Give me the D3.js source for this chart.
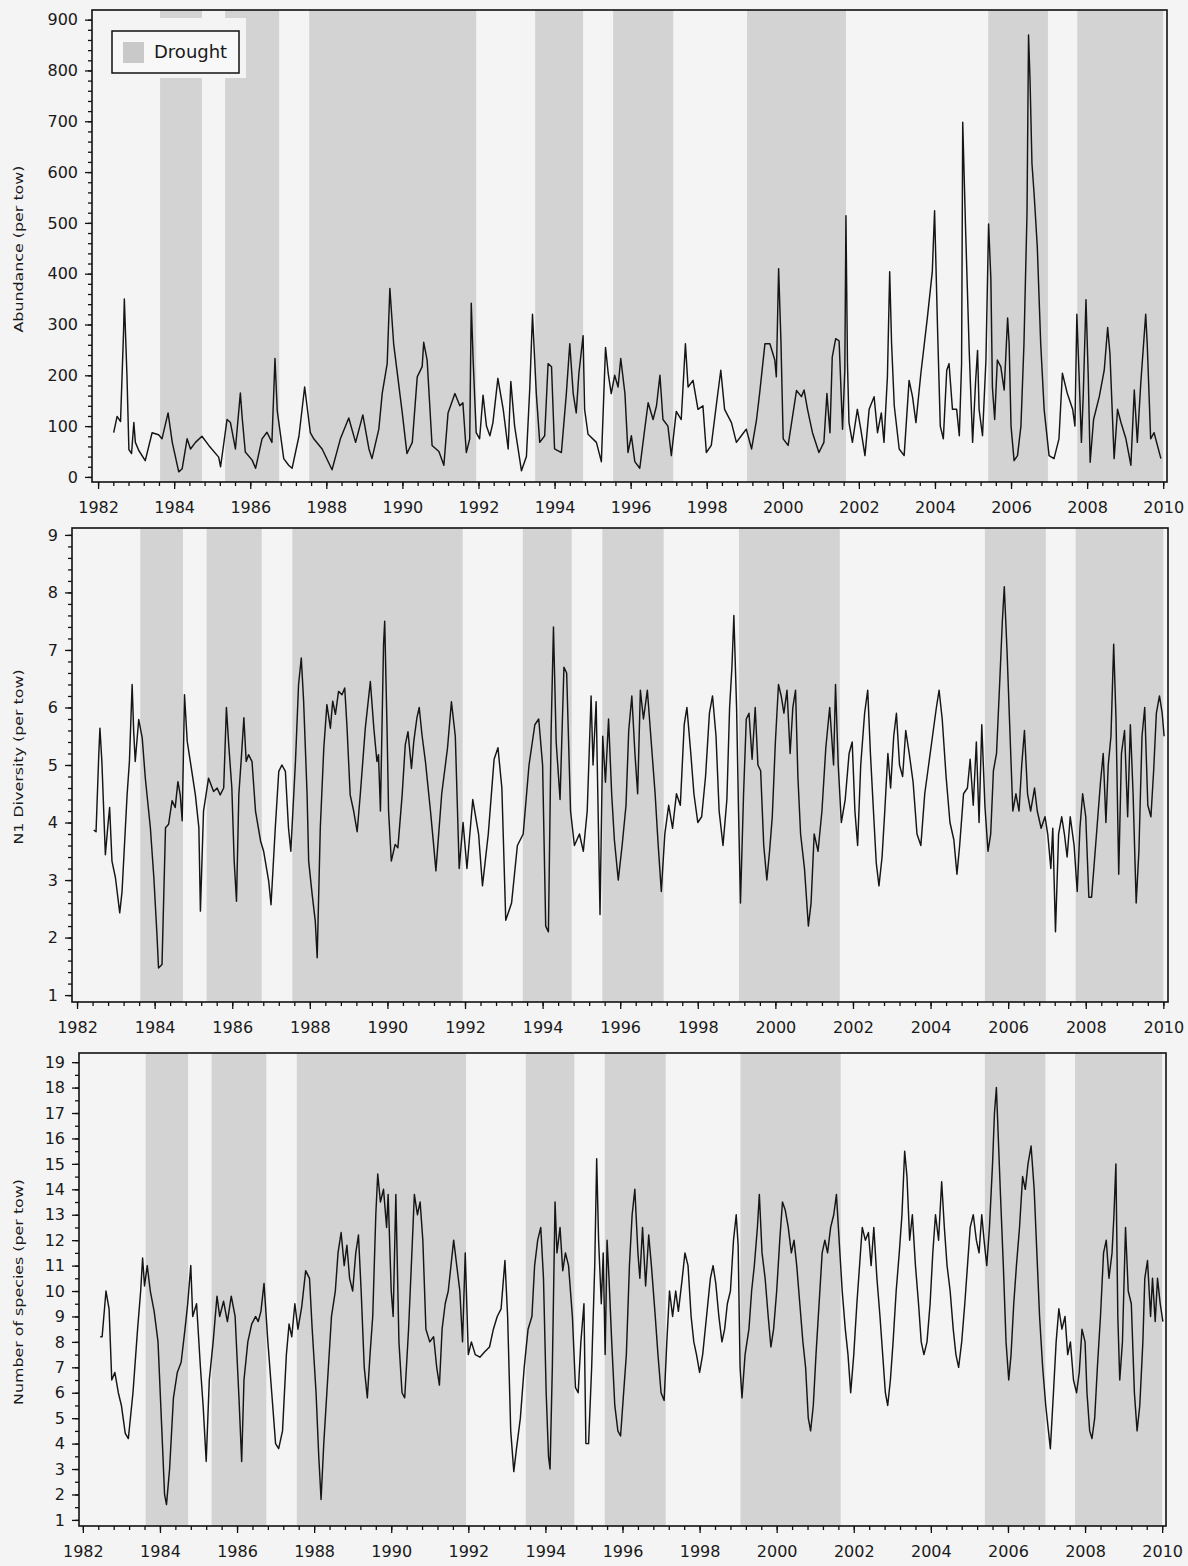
<!DOCTYPE html>
<html><head><meta charset="utf-8">
<script src="https://cdn.jsdelivr.net/npm/d3@7/dist/d3.min.js"></script>
<style>body{margin:0;background:#f4f4f4} svg{display:block}</style>
</head><body><svg id="c" width="1188" height="1566"></svg>
<script>
// ---------- DATA ----------
const droughtStart = [1983.63, 1985.34, 1987.55, 1993.49, 1995.54, 1999.06, 2005.40, 2007.74];
const droughtEnd   = [1984.73, 1986.76, 1991.94, 1994.75, 1997.12, 2001.66, 2006.97, 2010.00];
const xTickYears = [1982,1984,1986,1988,1990,1992,1994,1996,1998,2000,2002,2004,2006,2008,2010];
const abundanceTicks = [0,100,200,300,400,500,600,700,800,900];
const diversityTicks = [1,2,3,4,5,6,7,8,9];
const speciesTicks = [1,2,3,4,5,6,7,8,9,10,11,12,13,14,15,16,17,18,19];

const abundanceYear = [1982.41,1982.50,1982.59,1982.67,1982.69,1982.76,1982.81,1982.88,1982.94,1982.98,1983.07,1983.24,1983.42,1983.59,1983.68,1983.84,1983.95,1984.12,1984.21,1984.34,1984.43,1984.56,1984.73,1984.91,1985.17,1985.22,1985.39,1985.48,1985.61,1985.74,1985.79,1985.87,1986.05,1986.14,1986.31,1986.44,1986.57,1986.65,1986.71,1986.88,1987.01,1987.10,1987.28,1987.43,1987.58,1987.67,1987.89,1988.15,1988.37,1988.59,1988.77,1988.96,1989.12,1989.20,1989.38,1989.47,1989.60,1989.67,1989.77,1989.99,1990.12,1990.26,1990.39,1990.52,1990.56,1990.65,1990.78,1990.96,1991.09,1991.20,1991.38,1991.51,1991.59,1991.68,1991.77,1991.81,1991.86,1991.94,1992.03,1992.12,1992.21,1992.30,1992.38,1992.51,1992.65,1992.78,1992.85,1992.95,1993.13,1993.26,1993.35,1993.42,1993.52,1993.61,1993.74,1993.83,1993.92,1994.00,1994.18,1994.31,1994.40,1994.49,1994.57,1994.64,1994.75,1994.79,1994.88,1995.10,1995.23,1995.34,1995.41,1995.49,1995.58,1995.67,1995.74,1995.85,1995.93,1996.02,1996.11,1996.24,1996.37,1996.46,1996.59,1996.68,1996.77,1996.85,1996.98,1997.07,1997.20,1997.33,1997.44,1997.51,1997.64,1997.77,1997.90,1997.99,1998.12,1998.26,1998.37,1998.47,1998.65,1998.78,1998.91,1999.04,1999.18,1999.31,1999.39,1999.53,1999.66,1999.79,1999.83,1999.89,1999.95,2000.01,2000.14,2000.36,2000.49,2000.56,2000.65,2000.78,2000.95,2001.08,2001.16,2001.24,2001.30,2001.39,2001.48,2001.57,2001.63,2001.66,2001.70,2001.74,2001.83,2001.96,2002.05,2002.16,2002.27,2002.40,2002.49,2002.59,2002.66,2002.75,2002.81,2002.86,2002.93,2003.06,2003.19,2003.32,2003.41,2003.50,2003.63,2003.80,2003.93,2003.99,2004.07,2004.14,2004.22,2004.31,2004.37,2004.46,2004.57,2004.64,2004.70,2004.73,2004.81,2004.90,2004.99,2005.07,2005.12,2005.16,2005.25,2005.34,2005.41,2005.47,2005.51,2005.57,2005.64,2005.73,2005.82,2005.91,2005.95,2006.00,2006.08,2006.17,2006.26,2006.34,2006.42,2006.46,2006.50,2006.55,2006.61,2006.69,2006.78,2006.87,2007.00,2007.13,2007.26,2007.35,2007.48,2007.62,2007.68,2007.73,2007.79,2007.85,2007.90,2007.97,2008.03,2008.08,2008.17,2008.32,2008.45,2008.54,2008.60,2008.71,2008.80,2008.89,2009.02,2009.15,2009.24,2009.32,2009.41,2009.54,2009.58,2009.67,2009.76,2009.94];
const abundanceValue = [87,119,109,287,350,197,54,46,107,68,52,32,87,83,75,126,68,10,16,75,55,68,80,62,39,20,113,107,55,165,115,49,33,17,75,88,68,233,130,36,23,17,80,177,87,75,55,14,75,116,68,122,55,36,94,165,223,371,262,130,46,68,197,217,265,230,62,50,23,126,164,140,146,48,75,342,229,87,75,161,100,81,107,194,133,55,188,100,12,40,177,320,164,68,81,223,217,55,48,164,262,164,126,204,278,133,84,68,30,255,204,164,200,177,233,164,48,81,30,17,94,146,113,140,200,113,100,42,129,113,262,177,190,133,140,48,62,146,210,133,107,68,81,94,55,113,164,262,262,230,197,410,270,75,62,170,158,171,133,87,48,68,164,87,236,272,268,94,210,514,223,107,68,133,94,42,133,158,87,126,68,197,404,262,140,55,42,190,158,107,204,313,404,524,286,100,75,210,223,133,133,81,223,698,475,249,68,190,249,133,81,230,498,390,177,113,230,217,171,313,262,100,32,42,100,262,520,870,779,617,553,453,262,133,42,36,75,204,164,133,100,320,197,68,164,349,197,29,113,158,210,294,243,36,133,107,75,23,171,68,184,320,262,75,87,36];

const diversityYear = [1982.43,1982.49,1982.56,1982.59,1982.64,1982.73,1982.79,1982.84,1982.90,1982.99,1983.10,1983.16,1983.29,1983.35,1983.42,1983.46,1983.50,1983.59,1983.68,1983.76,1983.89,1983.98,1984.06,1984.10,1984.19,1984.28,1984.36,1984.45,1984.53,1984.60,1984.66,1984.71,1984.77,1984.84,1984.92,1985.05,1985.14,1985.18,1985.26,1985.39,1985.52,1985.61,1985.69,1985.78,1985.85,1985.91,1985.99,1986.05,1986.11,1986.17,1986.24,1986.30,1986.36,1986.42,1986.51,1986.60,1986.73,1986.81,1986.94,1987.00,1987.11,1987.20,1987.28,1987.37,1987.45,1987.51,1987.63,1987.71,1987.78,1987.84,1987.93,1987.97,1988.06,1988.14,1988.19,1988.27,1988.36,1988.44,1988.53,1988.59,1988.66,1988.74,1988.83,1988.90,1988.96,1989.04,1989.13,1989.22,1989.30,1989.43,1989.56,1989.65,1989.73,1989.77,1989.82,1989.90,1989.93,1989.99,1990.03,1990.10,1990.20,1990.27,1990.38,1990.46,1990.53,1990.62,1990.68,1990.76,1990.82,1990.89,1990.98,1991.11,1991.19,1991.25,1991.40,1991.55,1991.65,1991.75,1991.85,1991.95,1992.05,1992.20,1992.35,1992.45,1992.60,1992.75,1992.85,1992.95,1993.05,1993.20,1993.35,1993.50,1993.65,1993.80,1993.90,1994.00,1994.08,1994.15,1994.22,1994.28,1994.35,1994.45,1994.55,1994.62,1994.72,1994.82,1994.95,1995.05,1995.15,1995.25,1995.30,1995.38,1995.42,1995.48,1995.55,1995.62,1995.70,1995.78,1995.85,1995.95,1996.05,1996.15,1996.22,1996.30,1996.38,1996.45,1996.52,1996.60,1996.70,1996.80,1996.90,1996.98,1997.06,1997.15,1997.25,1997.35,1997.45,1997.55,1997.65,1997.72,1997.82,1997.90,1998.00,1998.10,1998.20,1998.30,1998.38,1998.47,1998.55,1998.65,1998.75,1998.82,1998.88,1998.93,1999.00,1999.05,1999.10,1999.18,1999.25,1999.32,1999.40,1999.48,1999.55,1999.62,1999.70,1999.78,1999.85,1999.92,2000.00,2000.08,2000.15,2000.22,2000.30,2000.38,2000.45,2000.52,2000.58,2000.65,2000.75,2000.85,2000.92,2001.00,2001.10,2001.20,2001.30,2001.40,2001.50,2001.55,2001.62,2001.70,2001.80,2001.90,2001.98,2002.05,2002.12,2002.20,2002.30,2002.38,2002.45,2002.52,2002.60,2002.67,2002.75,2002.82,2002.90,2002.97,2003.05,2003.12,2003.20,2003.28,2003.36,2003.45,2003.55,2003.65,2003.75,2003.85,2003.95,2004.05,2004.15,2004.22,2004.30,2004.40,2004.50,2004.60,2004.68,2004.75,2004.85,2004.95,2005.02,2005.10,2005.18,2005.25,2005.32,2005.40,2005.48,2005.55,2005.62,2005.70,2005.78,2005.85,2005.90,2005.97,2006.05,2006.12,2006.20,2006.28,2006.35,2006.42,2006.50,2006.58,2006.68,2006.75,2006.85,2006.95,2007.02,2007.10,2007.15,2007.22,2007.30,2007.38,2007.45,2007.52,2007.60,2007.70,2007.78,2007.85,2007.92,2008.00,2008.08,2008.15,2008.22,2008.30,2008.38,2008.45,2008.52,2008.58,2008.65,2008.72,2008.78,2008.85,2008.92,2009.00,2009.08,2009.15,2009.22,2009.30,2009.37,2009.45,2009.52,2009.60,2009.68,2009.75,2009.82,2009.90,2009.97,2010.02];
const diversityValue = [3.87,3.84,5.18,5.64,5.06,3.44,3.91,4.26,3.33,3.04,2.43,2.80,4.48,5.06,6.40,5.58,5.06,5.79,5.47,4.77,3.91,3.04,2.05,1.47,1.53,3.91,3.97,4.38,4.26,4.71,4.48,4.03,6.22,5.41,5.06,4.48,3.91,2.46,4.20,4.77,4.54,4.60,4.48,4.60,6.00,5.35,4.60,3.33,2.63,4.48,5.18,5.82,5.06,5.18,5.06,4.20,3.68,3.50,2.98,2.57,3.91,4.89,5.00,4.89,3.91,3.50,5.06,6.40,6.86,6.11,4.48,3.33,2.75,2.29,1.65,3.91,5.29,6.05,5.64,6.11,5.88,6.28,6.22,6.34,5.64,4.48,4.20,3.84,4.48,5.64,6.45,5.64,5.06,5.18,4.20,7.09,7.50,5.64,4.20,3.33,3.62,3.56,4.48,5.35,5.58,4.94,5.41,5.82,6.00,5.53,5.06,4.20,3.62,3.16,4.5,5.3,6.1,5.5,3.2,4.0,3.2,4.4,3.8,2.9,3.8,5.1,5.3,4.6,2.3,2.6,3.6,3.8,5.0,5.7,5.8,5.0,2.2,2.1,5.6,7.4,5.4,4.4,6.7,6.6,4.2,3.6,3.8,3.5,4.2,6.2,5.0,6.1,4.6,2.4,5.5,4.7,5.8,4.5,3.7,3.0,3.6,4.3,5.6,6.2,5.2,4.5,6.3,5.8,6.3,5.4,4.5,3.6,2.8,3.8,4.3,3.9,4.5,4.3,5.7,6.0,5.2,4.5,4.0,4.1,4.8,5.9,6.2,5.5,4.2,3.6,4.4,6.0,6.7,7.6,6.0,4.2,2.6,4.5,5.8,5.9,5.1,6.0,5.0,4.9,3.6,3.0,3.5,4.1,5.4,6.4,6.2,5.9,6.3,5.2,6.0,6.3,4.8,3.8,3.2,2.2,2.6,3.8,3.5,4.2,5.3,6.0,5.0,6.4,5.0,4.0,4.4,5.2,5.4,4.2,3.6,5.0,5.9,6.3,5.2,4.3,3.3,2.9,3.4,4.2,5.2,4.6,5.5,5.9,5.0,4.8,5.6,5.2,4.7,3.8,3.6,4.5,5.0,5.5,6.0,6.3,5.8,4.8,4.0,3.7,3.1,3.6,4.5,4.6,5.1,4.3,5.4,4.0,5.7,4.3,3.5,3.8,4.9,5.2,6.4,7.5,8.1,7.0,5.5,4.2,4.5,4.2,5.0,5.6,4.5,4.2,4.6,4.2,3.9,4.1,3.8,3.2,3.9,2.1,3.8,4.1,3.8,3.4,4.1,3.6,2.8,3.9,4.5,4.1,2.7,2.7,3.3,4.0,4.7,5.2,4.0,5.0,5.5,7.1,5.8,3.1,5.2,5.6,4.1,5.7,4.5,2.6,3.5,5.5,6.0,4.3,4.1,4.9,5.9,6.2,5.9,5.5];

const speciesYear = [1982.45,1982.50,1982.60,1982.68,1982.75,1982.83,1982.92,1983.00,1983.10,1983.18,1983.30,1983.42,1983.50,1983.55,1983.60,1983.67,1983.75,1983.85,1983.95,1984.05,1984.12,1984.17,1984.25,1984.35,1984.45,1984.55,1984.65,1984.72,1984.80,1984.85,1984.95,1985.05,1985.12,1985.20,1985.28,1985.38,1985.48,1985.55,1985.65,1985.75,1985.85,1985.95,1986.05,1986.12,1986.18,1986.28,1986.38,1986.48,1986.55,1986.62,1986.70,1986.80,1986.90,1987.00,1987.08,1987.18,1987.28,1987.35,1987.42,1987.50,1987.58,1987.68,1987.78,1987.88,1987.95,1988.05,1988.12,1988.18,1988.25,1988.35,1988.45,1988.55,1988.62,1988.70,1988.78,1988.85,1988.92,1989.00,1989.08,1989.15,1989.22,1989.30,1989.38,1989.45,1989.52,1989.60,1989.65,1989.72,1989.80,1989.88,1989.92,1990.00,1990.05,1990.12,1990.20,1990.28,1990.35,1990.45,1990.55,1990.60,1990.68,1990.75,1990.82,1990.90,1991.00,1991.10,1991.18,1991.25,1991.32,1991.40,1991.48,1991.55,1991.62,1991.70,1991.78,1991.85,1991.92,1992.00,1992.08,1992.18,1992.30,1992.42,1992.55,1992.65,1992.75,1992.85,1992.95,1993.02,1993.10,1993.18,1993.25,1993.35,1993.45,1993.55,1993.65,1993.72,1993.80,1993.88,1993.95,1994.02,1994.08,1994.12,1994.18,1994.25,1994.30,1994.38,1994.45,1994.52,1994.60,1994.70,1994.78,1994.85,1994.92,1995.00,1995.05,1995.12,1995.20,1995.28,1995.33,1995.38,1995.45,1995.50,1995.55,1995.60,1995.65,1995.72,1995.80,1995.88,1995.95,1996.02,1996.10,1996.18,1996.25,1996.32,1996.40,1996.45,1996.52,1996.60,1996.68,1996.75,1996.85,1996.92,1997.00,1997.08,1997.15,1997.22,1997.30,1997.38,1997.45,1997.55,1997.62,1997.70,1997.78,1997.85,1997.92,1998.00,1998.08,1998.18,1998.28,1998.35,1998.42,1998.50,1998.58,1998.65,1998.72,1998.80,1998.88,1998.95,1999.00,1999.05,1999.10,1999.18,1999.28,1999.35,1999.42,1999.50,1999.55,1999.62,1999.70,1999.78,1999.85,1999.92,2000.00,2000.08,2000.15,2000.22,2000.30,2000.38,2000.45,2000.52,2000.60,2000.68,2000.75,2000.82,2000.88,2000.95,2001.02,2001.10,2001.18,2001.25,2001.32,2001.40,2001.48,2001.55,2001.62,2001.70,2001.78,2001.85,2001.92,2002.00,2002.08,2002.15,2002.22,2002.30,2002.38,2002.45,2002.52,2002.60,2002.68,2002.75,2002.82,2002.88,2002.95,2003.02,2003.10,2003.18,2003.25,2003.32,2003.38,2003.45,2003.52,2003.60,2003.68,2003.75,2003.82,2003.90,2003.98,2004.05,2004.12,2004.20,2004.28,2004.35,2004.42,2004.50,2004.58,2004.65,2004.72,2004.80,2004.88,2004.95,2005.02,2005.10,2005.18,2005.25,2005.32,2005.38,2005.45,2005.52,2005.60,2005.65,2005.70,2005.75,2005.80,2005.88,2005.95,2006.02,2006.08,2006.15,2006.22,2006.30,2006.38,2006.45,2006.52,2006.60,2006.68,2006.75,2006.82,2006.90,2006.98,2007.05,2007.10,2007.18,2007.25,2007.32,2007.40,2007.48,2007.55,2007.62,2007.70,2007.78,2007.85,2007.92,2008.00,2008.05,2008.12,2008.18,2008.25,2008.32,2008.40,2008.48,2008.55,2008.62,2008.70,2008.75,2008.80,2008.85,2008.90,2008.97,2009.05,2009.12,2009.20,2009.28,2009.35,2009.42,2009.50,2009.55,2009.62,2009.70,2009.75,2009.82,2009.88,2009.95,2010.02];
const speciesValue = [8.2,8.2,10.0,9.3,6.5,6.8,6.0,5.5,4.4,4.2,6.0,8.5,10.0,11.3,10.2,11.0,10.0,9.2,8.0,4.5,2.0,1.6,3.0,5.8,6.8,7.2,8.5,9.5,11.0,9.0,9.5,7.0,5.5,3.3,6.5,8.0,9.8,9.0,9.6,8.8,9.8,9.0,5.8,3.3,6.5,8.0,8.7,9.0,8.8,9.2,10.3,8.0,6.0,4.0,3.8,4.5,7.5,8.7,8.2,9.5,8.5,9.4,10.8,10.5,8.5,6.0,3.5,1.8,4.0,6.5,9.0,10.0,11.5,12.3,11.0,11.8,10.5,10.0,11.5,12.2,10.0,7.0,5.8,7.5,9.0,13.0,14.6,13.5,14.0,12.5,13.8,10.0,9.0,13.8,8.0,6.0,5.8,8.5,12.0,13.8,13.0,13.5,12.0,8.5,8.0,8.2,7.0,6.3,8.5,9.5,10.0,11.0,12.0,11.0,10.0,8.0,11.5,7.5,8.0,7.5,7.4,7.6,7.8,8.5,9.0,9.3,11.2,9.0,4.5,2.9,3.8,5.0,7.0,8.5,9.0,11.0,12.0,12.5,10.5,6.0,3.5,3.0,7.0,13.5,11.5,12.5,10.8,11.5,11.0,9.0,6.2,6.0,8.0,9.5,4.0,4.0,7.0,11.0,15.2,12.0,9.5,11.5,7.5,12.0,10.5,8.0,5.5,4.5,4.3,5.8,7.5,11.0,13.0,14.0,11.5,10.5,12.5,10.2,12.2,11.0,9.0,7.5,6.0,5.7,8.0,10.0,9.0,10.0,9.2,10.5,11.5,11.0,9.0,8.0,7.5,6.8,7.5,9.0,10.5,11.0,10.3,9.0,8.0,8.5,9.5,10.0,12.0,13.0,11.8,7.0,5.8,7.5,8.5,10.0,11.0,12.5,13.8,11.5,10.5,9.0,7.8,8.5,10.0,12.0,13.5,13.2,12.5,11.5,12.0,11.0,9.5,8.0,7.0,5.0,4.5,5.5,7.5,9.5,11.5,12.0,11.5,12.5,13.0,13.8,12.0,10.0,8.5,7.5,6.0,7.5,9.5,11.0,12.5,12.0,12.3,11.0,12.5,10.5,9.0,7.5,6.0,5.5,6.5,8.0,10.0,11.5,13.0,15.5,14.5,12.0,13.0,11.0,9.5,8.0,7.5,8.0,9.5,11.5,13.0,12.0,14.3,12.5,11.0,10.0,8.5,7.5,7.0,8.0,9.5,11.0,12.5,13.0,12.0,11.5,13.0,12.0,11.0,12.5,15.0,17.0,18.0,16.0,14.0,11.0,8.0,6.5,7.5,9.5,11.0,12.5,14.5,14.0,15.0,15.7,14.0,11.5,9.0,7.0,5.5,4.5,3.8,6.0,8.0,9.3,8.5,9.0,7.5,8.0,6.5,6.0,6.8,8.5,8.0,6.0,4.5,4.2,5.0,7.0,9.0,11.5,12.0,10.5,11.5,13.0,15.0,9.0,6.5,8.0,12.5,10.0,9.5,6.0,4.5,5.5,8.0,10.5,11.2,9.0,10.5,8.8,10.5,9.5,8.8];

// ---------- DRAWING ----------
const svg = d3.select("#c");
const BG = "#f4f4f4";
svg.append("rect").attr("width",1188).attr("height",1566).attr("fill",BG);

const panels = [
  {title:"Abundance (per tow)", xs:abundanceYear, vs:abundanceValue, ticks:abundanceTicks, minor:20,
   xDom:[1981.84,2010.10], xR:[92,1167], yDom:[-10,919], yR:[482,10], titleY:249, legend:true},
  {title:"N1 Diversity (per tow)", xs:diversityYear, vs:diversityValue, ticks:diversityTicks, minor:0.2,
   xDom:[1981.87,2010.12], xR:[72,1168], yDom:[0.88,9.12], yR:[1002,528], titleY:757},
  {title:"Number of species (per tow)", xs:speciesYear, vs:speciesValue, ticks:speciesTicks, minor:0.5,
   xDom:[1981.90,2010.10], xR:[79,1166], yDom:[0.76,19.36], yR:[1526,1053], titleY:1292}
];

panels.forEach(p => {
  const x = d3.scaleLinear().domain(p.xDom).range(p.xR);
  const y = d3.scaleLinear().domain(p.yDom).range(p.yR);
  const g = svg.append("g");
  const top = p.yR[1], bot = p.yR[0];

  // drought bands
  g.selectAll("rect.band").data(droughtStart.map((s,i)=>[s,droughtEnd[i]])).join("rect")
    .attr("class","band").attr("x",d=>x(d[0])).attr("width",d=>x(d[1])-x(d[0]))
    .attr("y",top).attr("height",bot-top).attr("fill","#d3d3d3");

  if (p.legend) {
    g.append("rect").attr("x",p.xR[0]+1).attr("y",18).attr("width",153).attr("height",60).attr("fill",BG);
  }

  // series line
  const pts = p.xs.map((xv,i)=>[xv,p.vs[i]]);
  g.append("path").datum(pts)
    .attr("d", d3.line().x(d=>x(d[0])).y(d=>y(d[1])))
    .attr("fill","none").attr("stroke","#151515").attr("stroke-width",1.45)
    .attr("stroke-linejoin","round");

  // frame
  g.append("rect").attr("x",p.xR[0]).attr("y",top).attr("width",p.xR[1]-p.xR[0]).attr("height",bot-top)
    .attr("fill","none").attr("stroke","#111").attr("stroke-width",1.6);

  // y axis
  const yMinor = d3.range(p.ticks[0], p.ticks[p.ticks.length-1]+p.minor/2, p.minor);
  const ay1 = g.append("g").attr("transform",`translate(${p.xR[0]},0)`)
    .call(d3.axisLeft(y).tickValues(yMinor).tickSize(4).tickFormat(""));
  const ay2 = g.append("g").attr("transform",`translate(${p.xR[0]},0)`)
    .call(d3.axisLeft(y).tickValues(p.ticks).tickSize(7).tickPadding(7).tickFormat(d3.format("d")));
  // x axis
  const xMinor = d3.range(0, 71).map(i => 1982 + i*0.4);
  const ax1 = g.append("g").attr("transform",`translate(0,${bot})`)
    .call(d3.axisBottom(x).tickValues(xMinor).tickSize(4).tickFormat(""));
  const ax2 = g.append("g").attr("transform",`translate(0,${bot})`)
    .call(d3.axisBottom(x).tickValues(xTickYears).tickSize(7).tickPadding(13).tickFormat(d3.format("d")));
  [ay1,ay2,ax1,ax2].forEach(a => {
    a.select(".domain").remove();
    a.selectAll("line").attr("stroke","#111").attr("stroke-width",1.3);
    a.selectAll("text").attr("font-family","DejaVu Sans, Verdana, sans-serif").attr("font-size",16).attr("fill","#1a1a1a");
  });

  // y title
  g.append("text")
    .attr("transform",`translate(23,${p.titleY}) rotate(-90) scale(1.27,1)`)
    .attr("text-anchor","middle")
    .attr("font-family","DejaVu Sans, Verdana, sans-serif").attr("font-size",12.5).attr("fill","#1a1a1a")
    .text(p.title);

  if (p.legend) {
    g.append("rect").attr("x",112).attr("y",31).attr("width",127).attr("height",42)
      .attr("fill","#f8f8f8").attr("stroke","#111").attr("stroke-width",1.5);
    g.append("rect").attr("x",123).attr("y",42).attr("width",21).attr("height",21).attr("fill","#c9c9c9");
    g.append("text").attr("x",154).attr("y",58)
      .attr("font-family","DejaVu Sans, Verdana, sans-serif").attr("font-size",18).attr("fill","#1a1a1a")
      .text("Drought");
  }
});
</script></body></html>
